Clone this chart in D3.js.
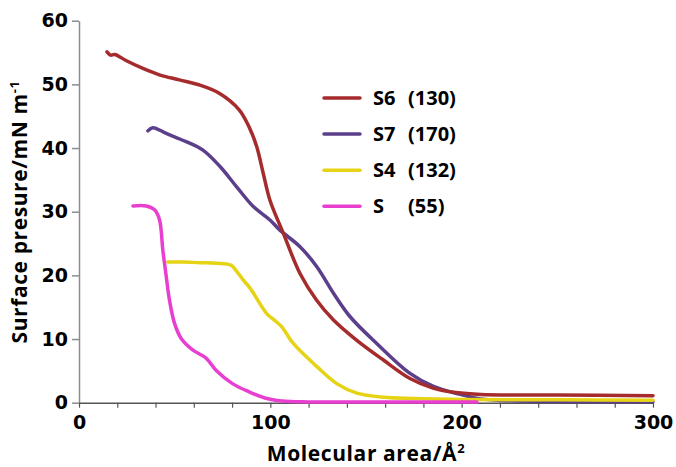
<!DOCTYPE html>
<html lang="en">
<head>
<meta charset="utf-8">
<title>Surface pressure isotherms</title>
<script src="https://cdnjs.cloudflare.com/ajax/libs/d3/7.8.5/d3.min.js"></script>
<style>
  body { margin: 0; background: #fff; }
  .tick text { font-family: "DejaVu Sans", sans-serif; font-weight: bold; font-size: 19px; fill: #000; }
  .title { font-family: "Open Sans", sans-serif; font-weight: bold; font-size: 21px; letter-spacing: 0.6px; fill: #000; }
  .legend text { font-family: "Open Sans", sans-serif; font-weight: bold; font-size: 20px; fill: #000; }
</style>
</head>
<body>
<svg id="chart"></svg>
<script>
// series (x = molecular area, y = surface pressure)
var s6X = [14.6, 16.5, 18.7, 24.8, 33.4, 42, 52.5, 63, 73.3, 83.7, 88.9, 92.9, 96.3, 99.8, 106.8, 115.5, 124.2, 133, 145.2, 159.1, 173, 185, 197, 210, 250, 300];
var s6Y = [55.1, 54.6, 54.7, 53.7, 52.5, 51.5, 50.7, 49.9, 48.6, 46, 43.3, 40.2, 36.0, 31.8, 26.6, 20.3, 16.1, 13.0, 9.8, 6.7, 3.8, 2.3, 1.6, 1.3, 1.2, 1.1];

var s7X = [36, 38.6, 45.6, 56, 64.6, 73.7, 82.4, 91.1, 99.8, 105, 115.5, 124.2, 133, 141.7, 155.6, 173, 185, 198, 210, 225, 250, 300];
var s7Y = [42.7, 43.2, 42.3, 41, 39.7, 37.1, 33.9, 30.8, 28.7, 27.1, 24.5, 21.4, 17.2, 13.5, 9.3, 4.6, 2.6, 1.4, 0.6, 0.3, 0.2, 0.15];

var s4X = [46.4, 55, 63, 72, 79.4, 82, 86, 89.4, 98.1, 102, 106, 112, 124.2, 134.7, 145.2, 159.1, 175, 200, 250, 300];
var s4Y = [22.1, 22.1, 22.0, 21.9, 21.6, 20.8, 19.2, 18.0, 14.0, 13.0, 11.9, 9.3, 5.7, 3.0, 1.5, 0.85, 0.65, 0.5, 0.45, 0.4];

var sX = [28.2, 35.2, 39.5, 42.1, 43.8, 45.6, 47.3, 49.9, 53.4, 59.4, 66.4, 71.6, 80.2, 89, 97.6, 106, 120, 150, 208];
var sY = [30.9, 30.9, 30.3, 28.7, 24.0, 19.8, 16.1, 12.5, 10.1, 8.3, 7.0, 5.1, 3.0, 1.7, 0.7, 0.27, 0.12, 0.1, 0.1];

var legendNames = ["S6", "S7", "S4", "S"];
var legendCounts = ["(130)", "(170)", "(132)", "(55)"];
var xTickLabels = [0, 100, 200, 300];
var xMinorTicks = d3.range(0, 301, 20);
var yTickLabels = [0, 10, 20, 30, 40, 50, 60];

var w = 676, h = 467;
var colors = {S6: "#a52b2c", S7: "#5c3f8b", S4: "#e6d315", S: "#e83fd0"};

var svg = d3.select("#chart").attr("width", w).attr("height", h);

var xScale = d3.scaleLinear().domain([0, 300]).range([79, 653]);
var yScale = d3.scaleLinear().domain([0, 60]).range([402.7, 20.7]);

// axes
var yAxis = d3.axisLeft(yScale).tickValues(yTickLabels).tickSize(7).tickSizeOuter(0).tickPadding(4);
var gy = svg.append("g").attr("transform", "translate(" + xScale(0) + ",0)").call(yAxis);
gy.select(".domain").attr("stroke", "#8c8c8c").attr("stroke-width", 1.5);
gy.selectAll(".tick line").attr("stroke", "#8c8c8c").attr("stroke-width", 1.5);

var xMinor = d3.axisBottom(xScale).tickValues(xMinorTicks).tickSize(5).tickSizeOuter(0).tickFormat("");
var gx = svg.append("g").attr("transform", "translate(0," + yScale(0) + ")").call(xMinor);
gx.select(".domain").attr("stroke", "#555").attr("stroke-width", 1.5);
gx.selectAll(".tick line").attr("stroke", "#555").attr("stroke-width", 1.2);

var xLabels = d3.axisBottom(xScale).tickValues(xTickLabels).tickSize(0).tickPadding(13).tickFormat(d3.format("d"));
var gxl = svg.append("g").attr("transform", "translate(0," + yScale(0) + ")").call(xLabels);
gxl.select(".domain").remove();

// axis titles
svg.append("text").attr("class", "title")
  .attr("x", (xScale(0) + xScale(300)) / 2).attr("y", 461)
  .attr("text-anchor", "middle")
  .html("Molecular area/Å<tspan font-size='13' dy='-8'>2</tspan>");

svg.append("text").attr("class", "title")
  .attr("transform", "translate(27,212) rotate(-90)")
  .attr("text-anchor", "middle")
  .html("Surface presure/mN m<tspan font-size='13' dy='-8'>-1</tspan>");

// curves
var series = [
  {name: "S7", x: s7X, y: s7Y},
  {name: "S6", x: s6X, y: s6Y},
  {name: "S4", x: s4X, y: s4Y},
  {name: "S", x: sX, y: sY}
];

var line = d3.line()
  .x(function(d) { return xScale(d[0]); })
  .y(function(d) { return yScale(d[1]); })
  .curve(d3.curveCatmullRom.alpha(0.5));

series.forEach(function(s) {
  var pts = s.x.map(function(v, i) { return [v, s.y[i]]; });
  svg.append("path")
    .datum(pts)
    .attr("fill", "none")
    .attr("stroke", colors[s.name])
    .attr("stroke-width", 3.5)
    .attr("stroke-linecap", "round")
    .attr("stroke-linejoin", "round")
    .attr("d", line);
});

// legend
var legend = svg.append("g").attr("class", "legend");
legendNames.forEach(function(name, i) {
  var y = 98 + i * 36.1;
  legend.append("line")
    .attr("x1", 324).attr("x2", 360).attr("y1", y).attr("y2", y)
    .attr("stroke", colors[name]).attr("stroke-width", 3.5).attr("stroke-linecap", "round");
  legend.append("text").attr("x", 373).attr("y", y + 7).text(name);
  legend.append("text").attr("x", 408).attr("y", y + 7).text(legendCounts[i]);
});
</script>
</body>
</html>
